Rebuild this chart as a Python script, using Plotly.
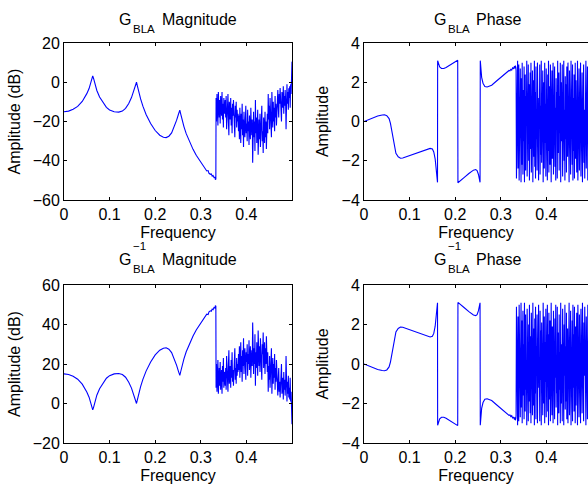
import numpy as np
import plotly.graph_objects as go

# ---------------- data ----------------
mag_freq_smooth = [0.0, 0.01, 0.02, 0.03, 0.04, 0.045, 0.05, 0.055, 0.058, 0.061, 0.063, 0.065,
                   0.068, 0.072, 0.078, 0.085, 0.093, 0.10, 0.11, 0.12, 0.128, 0.135, 0.142, 0.148,
                   0.153, 0.156, 0.159, 0.161, 0.164, 0.168, 0.173, 0.18, 0.19, 0.20, 0.21, 0.218,
                   0.224, 0.23, 0.236, 0.242, 0.247, 0.251, 0.254, 0.256, 0.259, 0.263, 0.268, 0.275,
                   0.283, 0.29, 0.296, 0.30, 0.305, 0.31, 0.313, 0.316, 0.318, 0.321, 0.323, 0.325,
                   0.327, 0.329, 0.331, 0.332, 0.333]
mag_db_smooth = [-15.0, -14.7, -13.8, -12.3, -9.8, -8.0, -5.8, -3.2, -1.2, 1.5, 3.2, 1.8,
                 -1.2, -4.2, -7.5, -10.3, -12.8, -14.1, -15.0, -15.2, -14.7, -13.3, -10.8, -7.8,
                 -4.6, -2.5, 0.0, -2.0, -5.0, -8.5, -12.2, -16.4, -21.0, -24.6, -27.0, -28.0,
                 -28.2, -27.5, -25.8, -22.6, -19.3, -16.3, -14.2, -16.2, -19.4, -22.6, -26.2, -30.2,
                 -34.2, -37.2, -39.3, -40.8, -42.3, -44.1, -45.2, -45.0, -46.4, -46.9, -46.7, -47.8,
                 -47.5, -48.6, -48.4, -49.6, -49.3]

mag_db_noise = [
    -8, -20, -6, -15, -22, -5, -12, -18, -9, -21, -7, -14, -17, -5, -19, -11, -23, -8, -13, -16,
    -9, -18, -7, -24, -12, -16, -6, -20, -27, -10, -14, -19, -8, -22, -13, -26, -11, -17, -9, -21,
    -15, -28, -12, -18, -10, -23, -14, -20, -16, -25,
    -17, -29, -13, -22, -31, -16, -24, -11, -27, -19, -33, -15, -23, -28, -18, -12, -26, -21, -30, -14,
    -25, -20, -32, -17, -24, -29, -13, -22, -27, -19,
    -41, -23, -15, -28, -20, -35, -9, -26, -18, -31, -22, -14, -37, -24, -19, -29, -16, -33, -21, -27,
    -12, -30, -25, -36, -18, -23, -31, -15, -28, -20, -34, -22,
    -16, -26, -6, -19, -12, -24, -8, -21, -14, -28, -5, -17, -23, -10, -20, -13, -25, -7, -18, -11, -22,
    -9, -15, -4, -12, -18, -6, -11, -3, -14, -8, -20, -5, -10, -13, -2, -16, -7, -12, -4, -9,
    -24, -6, -1, -11, -5, -14, -3, -8, -2, -13, -1, -6, 2, 10.5,
]

ph_freq_smooth = [0.0, 0.01, 0.02, 0.03, 0.04, 0.045, 0.05, 0.055, 0.058, 0.061, 0.064, 0.067,
                  0.07, 0.075, 0.08, 0.085, 0.09, 0.10, 0.11, 0.12, 0.13, 0.14, 0.145, 0.15,
                  0.153, 0.156, 0.158, 0.16, 0.1612, 0.1615, 0.163, 0.166, 0.17, 0.175, 0.18, 0.19,
                  0.20, 0.2055, 0.206, 0.21, 0.22, 0.23, 0.24, 0.245, 0.248, 0.251, 0.253, 0.2545,
                  0.255, 0.256, 0.258, 0.261, 0.265, 0.27, 0.28, 0.29, 0.30, 0.31, 0.315, 0.318,
                  0.32, 0.322, 0.324, 0.326, 0.328, 0.33, 0.331, 0.332, 0.333]
ph_rad_smooth = [0.0, 0.1, 0.2, 0.28, 0.33, 0.34, 0.3, 0.15, -0.1, -0.5, -0.95, -1.35,
                 -1.62, -1.8, -1.87, -1.86, -1.82, -1.74, -1.65, -1.57, -1.48, -1.4, -1.37, -1.4,
                 -1.55, -1.9, -2.3, -2.9, -3.1, 3.1, 2.95, 2.78, 2.7, 2.7, 2.75, 2.88,
                 3.02, 3.12, -3.12, -3.05, -2.85, -2.65, -2.48, -2.45, -2.5, -2.7, -2.95, -3.1,
                 3.1, 2.7, 2.25, 1.95, 1.78, 1.76, 1.85, 2.05, 2.25, 2.45, 2.52, 2.6,
                 2.58, 2.66, 2.62, 2.75, 2.68, 2.82, 2.7, 2.85, 2.75]

ph_rad_noise = [
    2.6, -2.9, 1.8, -1.2, 3.1, -2.4, 0.5, 2.9, -3.0, 1.1, -1.9, 2.7, -0.6, -3.1, 2.2, -2.2, 3.0, 0.3, -2.7, 1.6,
    -1.0, 2.8, -3.1, 0.9, 2.4, -2.5, 1.3, -0.2, 3.1, -2.8, 0.7, -1.6, 2.9, -2.0, 1.9, -3.0, 0.1, 2.5, -1.4, 3.0,
    -2.6, 1.0, -0.5, 2.6, -3.1, 2.1, -1.8, 0.6, 3.1, -2.3, 1.5, -2.9, 2.8, -0.9, 0.4, -2.5, 3.0, -1.3, 2.3, -3.0,
    1.2, -0.3, 2.9, -2.7, 0.8, -1.7, 3.1, -2.1, 1.7, -0.7, 2.6, -3.1, 0.2, 2.0, -2.4, 3.0, -1.1, 0.9, -2.8, 2.7,
    -0.4, 1.4, -3.0, 2.4, -1.5, 3.1, -2.6, 0.5, 1.8, -2.2, 2.9, -0.8, -3.1, 1.1, 2.6, -1.9, 0.3, 3.0, -2.7, 1.6,
    -1.2, 2.8, -2.3, 0.7, -3.0, 2.2, -0.1, 1.5, -2.9, 3.1, -1.6, 0.9, 2.5, -2.5, 1.3, -0.6, 3.0, -3.1, 2.0, -1.0,
    0.4, 2.9, -2.8, 1.7, -1.4, 3.1, -2.0, 0.6, -3.0, 2.3, -0.9, 1.9, -2.6, 2.8, -0.2, -1.8, 3.0, -2.4, 1.0, -3.1,
    2.6, -1.1, 0.8, -2.7, 3.1, -0.5, 1.6, -2.2, 2.9, -3.0, 1.2, -1.5, 2.4, -2.9, 0.3, 3.0, -1.9, 2.1, -0.7, -2.6,
    1.5, 3.1, -3.0, 0.5, -1.3, 2.7, -2.5, 1.9, -0.3, 3.0, -2.8, 0.9, -1.7, 2.5, -3.1, 1.3, -0.8, 2.9, -2.1, 0.6,
    -2.9, 2.2, -1.0, 3.1, -2.4, 1.1, -0.4, 2.8, -3.0, 1.7, -1.6, 3.0, -2.7, 0.2, 2.4, -1.2, -2.9, 3.1, -0.6, 2.9,
]

noise_f_start, noise_f_end = 0.3335, 0.5
x_ticks = [0, 0.1, 0.2, 0.3, 0.4]
x_tick_labels = ["0", "0.1", "0.2", "0.3", "0.4"]
mag_ticks = [-60, -40, -20, 0, 20]
ph_ticks = [-4, -2, 0, 2, 4]
inv_mag_ticks = [-20, 0, 20, 40, 60]

# ---------------- assemble series ----------------
mag_freq = list(mag_freq_smooth) + list(np.linspace(noise_f_start, noise_f_end, len(mag_db_noise)))
mag_db = list(mag_db_smooth) + list(mag_db_noise)
ph_freq = list(ph_freq_smooth) + list(np.linspace(noise_f_start, noise_f_end, len(ph_rad_noise)))
ph_rad = list(ph_rad_smooth) + list(ph_rad_noise)
# inverse BLA: magnitude and phase change sign
inv_mag_db = [-v for v in mag_db]
inv_ph_rad = [-v for v in ph_rad]

W, H = 588, 486
FONT = "Liberation Sans, Arial, Helvetica, sans-serif"
BLUE = "#0000ff"

def px(x):
    return x / W

def py(y):
    return 1 - y / H

fig = go.Figure()
line = dict(color=BLUE, width=1.1)
fig.add_trace(go.Scatter(x=mag_freq, y=mag_db, mode="lines", line=line, xaxis="x", yaxis="y", showlegend=False))
fig.add_trace(go.Scatter(x=ph_freq, y=ph_rad, mode="lines", line=line, xaxis="x2", yaxis="y2", showlegend=False))
fig.add_trace(go.Scatter(x=mag_freq, y=inv_mag_db, mode="lines", line=line, xaxis="x3", yaxis="y3", showlegend=False))
fig.add_trace(go.Scatter(x=ph_freq, y=inv_ph_rad, mode="lines", line=line, xaxis="x4", yaxis="y4", showlegend=False))

tickfont = dict(family=FONT, size=16, color="black")
titlefont = dict(family=FONT, size=16, color="black")

def xax(domain, anchor, rng):
    return dict(domain=domain, anchor=anchor, range=rng, tickvals=x_ticks, ticktext=x_tick_labels,
                showline=True, linecolor="black", linewidth=1, mirror="ticks", ticks="inside",
                ticklen=3, tickcolor="black", showgrid=False, zeroline=False, tickfont=tickfont,
                automargin=False,
                title=dict(text="Frequency", font=titlefont, standoff=4))

def yax(domain, anchor, rng, tv, title, mirror):
    return dict(domain=domain, anchor=anchor, range=rng, tickvals=tv,
                showline=True, linecolor="black", linewidth=1, mirror=mirror, ticks="inside",
                ticklen=3, tickcolor="black", showgrid=False, zeroline=False, tickfont=tickfont,
                automargin=False,
                title=dict(text=title, font=titlefont, standoff=8))

xl = [px(64), px(292)]
xr = [px(364), 1.0]
yt = [py(200), py(43)]
yb = [py(443), py(285)]
right_max = (588 - 364) / 456.0

fig.update_layout(
    width=W, height=H, margin=dict(l=0, r=0, t=0, b=0, pad=0),
    paper_bgcolor="white", plot_bgcolor="white",
    xaxis=xax(xl, "y", [0, 0.5]),
    yaxis=yax(yt, "x", [-60, 20], mag_ticks, "Amplitude (dB)", "ticks"),
    xaxis2=xax(xr, "y2", [0, right_max]),
    yaxis2=yax(yt, "x2", [-4, 4], ph_ticks, "Amplitude", False),
    xaxis3=xax(xl, "y3", [0, 0.5]),
    yaxis3=yax(yb, "x3", [-20, 60], inv_mag_ticks, "Amplitude (dB)", "ticks"),
    xaxis4=xax(xr, "y4", [0, right_max]),
    yaxis4=yax(yb, "x4", [-4, 4], ph_ticks, "Amplitude", False),
)

ann = []

def piece(text, left, ymid, size):
    ann.append(dict(text=text, x=px(left - 2), y=py(ymid), xref="paper", yref="paper",
                    xanchor="left", yanchor="middle", showarrow=False,
                    font=dict(family=FONT, size=size, color="black")))

def title(gx, word_x, word, y0, inverse):
    piece("G", gx, y0 + 19.2, 16)
    piece("BLA", gx + 13.4, y0 + 28.5, 11.5)
    if inverse:
        piece("\u22121", gx + 13.4, y0 + 6, 11.5)
    piece(word, word_x, y0 + 19.2, 16)

title(119.3, 162.3, "Magnitude", 0, False)
title(434.3, 476.0, "Phase", 0, False)
title(119.3, 162.3, "Magnitude", 240, True)
title(434.3, 476.0, "Phase", 240, True)

fig.update_layout(annotations=ann)
fig.write_html(
    "out.html",
    config={"displayModeBar": False},
    post_script="document.body.style.margin='0';document.body.style.overflow='hidden';",
)
